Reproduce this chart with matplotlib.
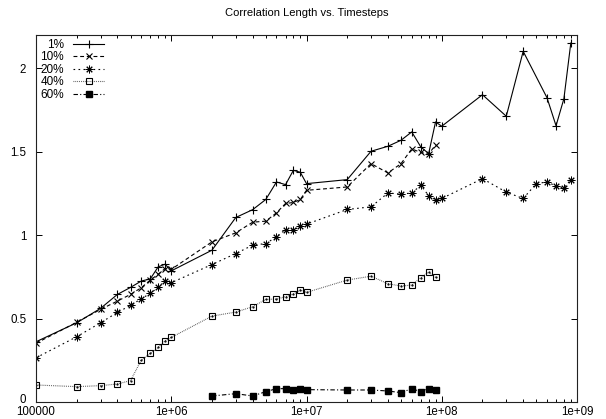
import matplotlib
matplotlib.use('Agg')
import matplotlib.pyplot as plt
import matplotlib.transforms as mtrans
from matplotlib.ticker import FixedLocator, FixedFormatter, NullFormatter

plt.rcParams['font.family'] = ['Liberation Sans', 'DejaVu Sans']

# ---- data ----
x_1 = [1e5, 2e5, 3e5, 4e5, 5e5, 6e5, 7e5, 8e5, 9e5, 1e6,
       2e6, 3e6, 4e6, 5e6, 6e6, 7e6, 8e6, 9e6, 1e7,
       2e7, 3e7, 4e7, 5e7, 6e7, 7e7, 8e7, 9e7, 1e8,
       2e8, 3e8, 4e8, 6e8, 7e8, 8e8, 9e8]
y_1 = [0.361, 0.475, 0.561, 0.645, 0.687, 0.725, 0.738, 0.810, 0.826, 0.786,
       0.910, 1.106, 1.153, 1.214, 1.319, 1.303, 1.389, 1.377, 1.309,
       1.333, 1.503, 1.533, 1.569, 1.619, 1.529, 1.489, 1.679, 1.653,
       1.842, 1.713, 2.102, 1.824, 1.656, 1.818, 2.152]

x_10 = [1e5, 2e5, 3e5, 4e5, 5e5, 6e5, 7e5, 8e5, 9e5, 1e6,
        2e6, 3e6, 4e6, 5e6, 6e6, 7e6, 8e6, 9e6, 1e7,
        2e7, 3e7, 4e7, 5e7, 6e7, 7e7, 8e7, 9e7]
y_10 = [0.352, 0.478, 0.555, 0.605, 0.645, 0.685, 0.731, 0.765, 0.800, 0.795,
        0.960, 1.014, 1.078, 1.084, 1.134, 1.190, 1.196, 1.214, 1.269,
        1.289, 1.429, 1.373, 1.429, 1.517, 1.496, 1.486, 1.541]

x_20 = [1e5, 2e5, 3e5, 4e5, 5e5, 6e5, 7e5, 8e5, 9e5, 1e6,
        2e6, 3e6, 4e6, 5e6, 6e6, 7e6, 8e6, 9e6, 1e7,
        2e7, 3e7, 4e7, 5e7, 6e7, 7e7, 8e7, 9e7, 1e8,
        2e8, 3e8, 4e8, 5e8, 6e8, 7e8, 8e8, 9e8]
y_20 = [0.265, 0.391, 0.475, 0.537, 0.579, 0.619, 0.651, 0.687, 0.727, 0.715,
        0.824, 0.890, 0.940, 0.950, 0.990, 1.034, 1.030, 1.054, 1.066,
        1.154, 1.170, 1.253, 1.246, 1.253, 1.299, 1.237, 1.212, 1.220,
        1.339, 1.258, 1.220, 1.309, 1.319, 1.295, 1.283, 1.333]

x_40 = [1e5, 2e5, 3e5, 4e5, 5e5, 6e5, 7e5, 8e5, 9e5, 1e6,
        2e6, 3e6, 4e6, 5e6, 6e6, 7e6, 8e6, 9e6, 1e7,
        2e7, 3e7, 4e7, 5e7, 6e7, 7e7, 8e7, 9e7]
y_40 = [0.102, 0.092, 0.098, 0.108, 0.128, 0.251, 0.291, 0.327, 0.367, 0.387,
        0.515, 0.539, 0.571, 0.615, 0.617, 0.631, 0.647, 0.671, 0.657,
        0.731, 0.754, 0.709, 0.695, 0.701, 0.745, 0.778, 0.747]

x_60 = [2e6, 3e6, 4e6, 5e6, 6e6, 7e6, 8e6, 9e6, 1e7,
        2e7, 3e7, 4e7, 5e7, 6e7, 7e7, 8e7, 9e7]
y_60 = [0.036, 0.050, 0.036, 0.062, 0.080, 0.080, 0.074, 0.080, 0.074,
        0.072, 0.072, 0.066, 0.056, 0.080, 0.062, 0.080, 0.072]

series_labels = ['1%', '10%', '20%', '40%', '60%']
title = 'Correlation Length vs. Timesteps'
x_ticks = [1e5, 1e6, 1e7, 1e8, 1e9]
x_ticklabels = ['100000', '1e+06', '1e+07', '1e+08', '1e+09']
y_ticks = [0, 0.5, 1, 1.5, 2]
y_ticklabels = ['0', '0.5', '1', '1.5', '2']

# ---- figure ----
fig = plt.figure(figsize=(6.06, 4.19), dpi=100)
ax = fig.add_axes([36/606, 17/419, 541/606, 367/419])

lw = 0.8
ax.plot(x_1, y_1, color='black', lw=lw, ls='-', marker='+', ms=6, mew=0.8,
        label=series_labels[0])
ax.plot(x_10, y_10, color='black', lw=lw, dashes=(3.5, 2.5), marker='x', ms=4.5,
        mew=0.8, label=series_labels[1])
ax.plot(x_20, y_20, color='black', lw=lw, dashes=(1.5, 3), marker=(8, 2, 0),
        ms=5.5, mew=0.7, label=series_labels[2])
ax.plot(x_40, y_40, color='#444444', lw=lw, dashes=(0.7, 1.0), marker='s', ms=4.5,
        mfc='none', mec='black', mew=0.8, label=series_labels[3])
ax.plot(x_40, y_40, ls='none', marker='.', ms=1.2, color='black')
ax.plot(x_60, y_60, color='black', lw=lw, dashes=(4, 2, 1, 2), marker='s', ms=4.5,
        mfc='black', mec='black', label=series_labels[4])

ax.set_xscale('log')
ax.set_xlim(1e5, 1e9)
ax.set_ylim(0, 2.2)

ax.xaxis.set_major_locator(FixedLocator(x_ticks))
ax.xaxis.set_major_formatter(FixedFormatter(x_ticklabels))
minor = [m * 10**e for e in range(5, 9) for m in range(2, 10)]
ax.xaxis.set_minor_locator(FixedLocator(minor))
ax.xaxis.set_minor_formatter(NullFormatter())
ax.yaxis.set_major_locator(FixedLocator(y_ticks))
ax.yaxis.set_major_formatter(FixedFormatter(y_ticklabels))

ax.tick_params(axis='both', which='major', direction='in', length=4, width=0.7,
               top=True, right=True, labelsize=8.3)
ax.tick_params(axis='both', which='minor', direction='in', length=2.2, width=0.7,
               top=True, right=True)
ax.tick_params(axis='x', which='major', pad=3)
ax.tick_params(axis='y', which='major', pad=7)
for s in ax.spines.values():
    s.set_linewidth(0.8)
    s.set_color('#222222')

# lift the "0" label slightly so it clears the "100000" label below it
fig.canvas.draw()
zero_lbl = ax.yaxis.get_major_ticks()[0].label1
zero_lbl.set_transform(zero_lbl.get_transform() +
                       mtrans.ScaledTranslation(0, 2.5 / 72, fig.dpi_scale_trans))

ax.set_title(title, fontsize=8, pad=14)

handles, labels = ax.get_legend_handles_labels()
leg = ax.legend(handles, labels, loc='upper left', bbox_to_anchor=(0.008, 0.99),
                markerfirst=False, frameon=False, fontsize=8.5, handlelength=2.6,
                handletextpad=0.8, labelspacing=0.05, borderpad=0, borderaxespad=0)

fig.savefig('out.png', dpi=100)
